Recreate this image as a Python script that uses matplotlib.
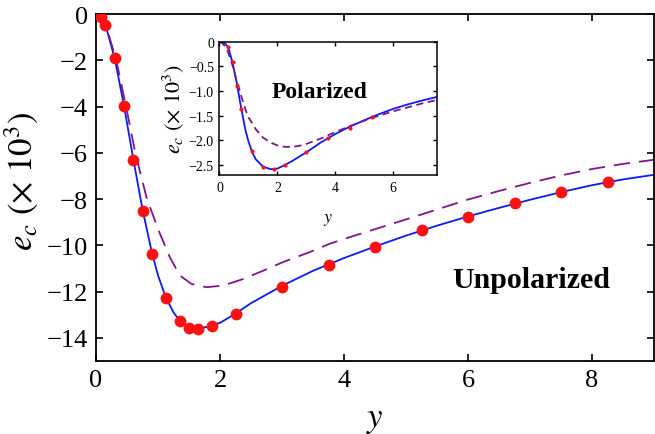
import matplotlib
matplotlib.use("Agg")
import matplotlib.pyplot as plt

plt.rcParams['font.family'] = ['Liberation Serif', 'DejaVu Serif']
plt.rcParams['mathtext.fontset'] = 'stix'

# ---- main (unpolarized) data ----
pts_x = [0.075, 0.15, 0.3, 0.45, 0.6, 0.75, 0.9, 1.125, 1.35, 1.5, 1.65, 1.875,
         2.25, 3.0, 3.75, 4.5, 5.25, 6.0, 6.75, 7.5, 8.25]
pts_y = [-0.13, -0.48, -1.9, -3.99, -6.3, -8.5, -10.36, -12.29, -13.29, -13.58,
         -13.62, -13.49, -12.97, -11.78, -10.84, -10.07, -9.35, -8.77, -8.19,
         -7.68, -7.28]

solid_x = [0, 0.05, 0.1, 0.15, 0.3, 0.45, 0.6, 0.75, 0.9, 1.0, 1.125, 1.25, 1.35,
           1.5, 1.65, 1.8, 1.875, 2.0, 2.25, 2.5, 3, 3.5, 4, 4.5, 5, 5.5, 6, 6.5,
           7, 7.5, 8, 8.5, 9]
solid_y = [0, -0.05, -0.2, -0.45, -1.9, -3.95, -6.25, -8.45, -10.3, -11.3, -12.25,
           -12.9, -13.25, -13.55, -13.6, -13.52, -13.45, -13.35, -12.95, -12.5,
           -11.75, -11.1, -10.55, -10.05, -9.58, -9.15, -8.75, -8.38, -8.03, -7.7,
           -7.4, -7.15, -6.95]

dash_x = [0, 0.1, 0.2, 0.33, 0.49, 0.63, 0.82, 1.03, 1.19, 1.35, 1.54, 1.78, 2.05,
          2.38, 2.7, 3.02, 3.45, 3.77, 4.1, 4.5, 5, 5.5, 6, 6.5, 7, 7.5, 8, 8.5, 9]
dash_y = [0, -0.25, -0.85, -2.04, -4.07, -5.96, -7.99, -9.49, -10.51, -11.3, -11.67,
          -11.81, -11.74, -11.45, -11.09, -10.72, -10.29, -9.93, -9.64, -9.3,
          -8.88, -8.45, -8.02, -7.65, -7.3, -6.98, -6.7, -6.48, -6.3]

main_xticks = [0, 2, 4, 6, 8]
main_yticks = [0, -2, -4, -6, -8, -10, -12, -14]

# ---- inset (polarized) data ----
ins_pts_x = [0.3, 0.45, 0.6, 0.75, 1.125, 1.5, 1.875, 2.25, 3.0, 3.75, 4.5, 5.25]
ins_pts_y = [-0.10, -0.42, -0.89, -1.37, -2.21, -2.53, -2.58, -2.49, -2.24, -1.96,
             -1.74, -1.52]

ins_solid_x = [0, 0.1, 0.2, 0.3, 0.45, 0.6, 0.75, 0.9, 1.0, 1.125, 1.25, 1.5, 1.75,
               1.9, 2.0, 2.25, 2.5, 3, 3.5, 4, 4.5, 5, 5.5, 6, 6.5, 7, 7.5]
ins_solid_y = [0, -0.01, -0.04, -0.11, -0.42, -0.85, -1.35, -1.8, -2.02, -2.23,
               -2.38, -2.53, -2.58, -2.58, -2.57, -2.5, -2.42, -2.24, -2.04, -1.87,
               -1.72, -1.59, -1.47, -1.36, -1.27, -1.19, -1.12]

ins_dash_x = [0, 0.1, 0.2, 0.3, 0.45, 0.6, 0.75, 0.9, 1.0, 1.25, 1.5, 1.75, 2.0,
              2.25, 2.5, 2.75, 3, 3.5, 4, 4.5, 5, 5.5, 6, 6.5, 7, 7.5]
ins_dash_y = [0, -0.03, -0.1, -0.22, -0.48, -0.8, -1.1, -1.38, -1.53, -1.77, -1.94,
              -2.04, -2.10, -2.13, -2.13, -2.11, -2.07, -1.96, -1.83, -1.71, -1.60,
              -1.50, -1.41, -1.33, -1.25, -1.18]

ins_xticks = [0, 2, 4, 6]
ins_yticks = [0, -0.5, -1.0, -1.5, -2.0, -2.5]
ins_yticklabels = ['0', '\u22120.5', '\u22121.0', '\u22121.5', '\u22122.0', '\u22122.5']

BLUE = '#0a1bf5'
PURPLE = '#7f1687'
RED = '#ff1111'

fig = plt.figure(figsize=(6.55, 4.35), dpi=100)

ax = fig.add_axes([0.1466, 0.1678, 0.8519, 0.7977])
ax.plot(solid_x, solid_y, color=BLUE, lw=1.3, zorder=2)
ax.plot(dash_x, dash_y, color=PURPLE, lw=1.3, dashes=(9, 5), zorder=2)
ax.plot(pts_x, pts_y, 'o', color=RED, ms=8.5, mec='none', zorder=3)
ax.set_xlim(0, 9)
ax.set_ylim(-15, 0)
ax.set_xticks(main_xticks)
ax.set_yticks(main_yticks)
ax.tick_params(direction='in', top=True, right=True, length=5, width=1.2,
               labelsize=19, pad=6)
for s in ax.spines.values():
    s.set_linewidth(1.3)
ax.set_xlabel('$y$', fontsize=25, labelpad=8)
ax.set_ylabel(r'$e_c\ (\times\ 10^3)$', fontsize=25, labelpad=4, y=0.52)
fig.text(531 / 655, 1 - 281 / 435, 'Unpolarized', fontsize=21.5, fontweight='bold',
         ha='center', va='center')

ins = fig.add_axes([0.3351, 0.5954, 0.3316, 0.3064])
ins.plot(ins_solid_x, ins_solid_y, color=BLUE, lw=1.3, zorder=2)
ins.plot(ins_dash_x, ins_dash_y, color=PURPLE, lw=1.3, dashes=(4, 2.5), zorder=2)
ins.plot(ins_pts_x, ins_pts_y, 'o', color=RED, ms=3, mec='none', zorder=3)
ins.set_xlim(0, 7.5)
ins.set_ylim(-2.7, 0)
ins.set_xticks(ins_xticks)
ins.set_yticks(ins_yticks)
ins.set_yticklabels(ins_yticklabels)
ins.tick_params(direction='in', top=True, right=True, length=3, width=1.0,
                labelsize=10, pad=4)
for s in ins.spines.values():
    s.set_linewidth(1.1)
ins.set_xlabel('$y$', fontsize=13, labelpad=12)
ins.set_ylabel(r'$e_c\ (\times\ 10^3)$', fontsize=16, labelpad=2)
fig.text(320 / 655, 1 - 93 / 435, 'Polarized', fontsize=17, fontweight='bold',
         ha='center', va='center')

fig.savefig('out.png', dpi=100)
